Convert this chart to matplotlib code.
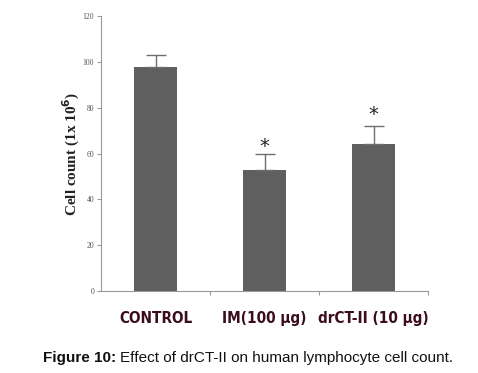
import matplotlib
matplotlib.use("Agg")
import matplotlib.pyplot as plt
import numpy as np

categories = ["CONTROL", "IM(100 \u00b5g)", "drCT-II (10 \u00b5g)"]
values = [98, 53, 64]
errors = [5, 7, 8]
stars = ["", "*", "*"]
star_y = [0, 63, 77]
yticks = [0, 20, 40, 60, 80, 100, 120]

fig = plt.figure(figsize=(4.78, 3.73), dpi=100)
ax = fig.add_axes([0.2113, 0.2198, 0.6841, 0.737])
x = np.arange(len(categories))
ax.bar(x, values, width=0.4, color="#5f5f5f", zorder=2)
ax.errorbar(x, values, yerr=[np.zeros(3), errors], fmt="none", ecolor="#6e6e6e",
            elinewidth=1, capsize=7, capthick=1, zorder=3)
for xi, s, sy in zip(x, stars, star_y):
    if s:
        ax.text(xi, sy, s, ha="center", va="center", fontsize=14, color="#222222",
                family="DejaVu Sans")
ax.set_xlim(-0.5, 2.5)
ax.set_ylim(0, 120)
ax.set_yticks(yticks)
ax.set_yticklabels([str(t) for t in yticks], fontsize=5.5, family="Liberation Serif", color="#555555")
ax.set_xticks([0.5, 1.5, 2.5])
ax.set_xticklabels([])
ax.tick_params(axis="y", length=3, color="#999999", width=0.8, pad=2)
ax.tick_params(axis="x", length=3, color="#999999", width=0.8)
for s in ["top", "right"]:
    ax.spines[s].set_visible(False)
for s in ["left", "bottom"]:
    ax.spines[s].set_color("#999999")
    ax.spines[s].set_linewidth(0.8)

for xi, c in zip(x, categories):
    ax.text(xi, -0.1, c, transform=ax.get_xaxis_transform(), ha="center", va="center",
            fontsize=11, fontweight="bold", family="DejaVu Sans", fontstretch="condensed",
            color="#3a0c1e")

fig.text(0.15, 0.587, "Cell count (1x 10$^{\\mathbf{6}}$)", rotation=90, ha="center", va="center",
         fontsize=11, fontweight="bold", family="Liberation Serif", color="#222222")

fig.canvas.draw()
renderer = fig.canvas.get_renderer()
t1 = fig.text(0.09, 0.04, "Figure 10:", fontsize=10.95, fontweight="bold", family="Liberation Sans",
              ha="left", va="center", color="#111111")
bb = t1.get_window_extent(renderer=renderer)
x2 = (bb.x1 + 4) / fig.bbox.width
fig.text(x2, 0.04, "Effect of drCT-II on human lymphocyte cell count.", fontsize=10.95,
         family="Liberation Sans", ha="left", va="center", color="#111111")

fig.savefig("out.png", dpi=100)
